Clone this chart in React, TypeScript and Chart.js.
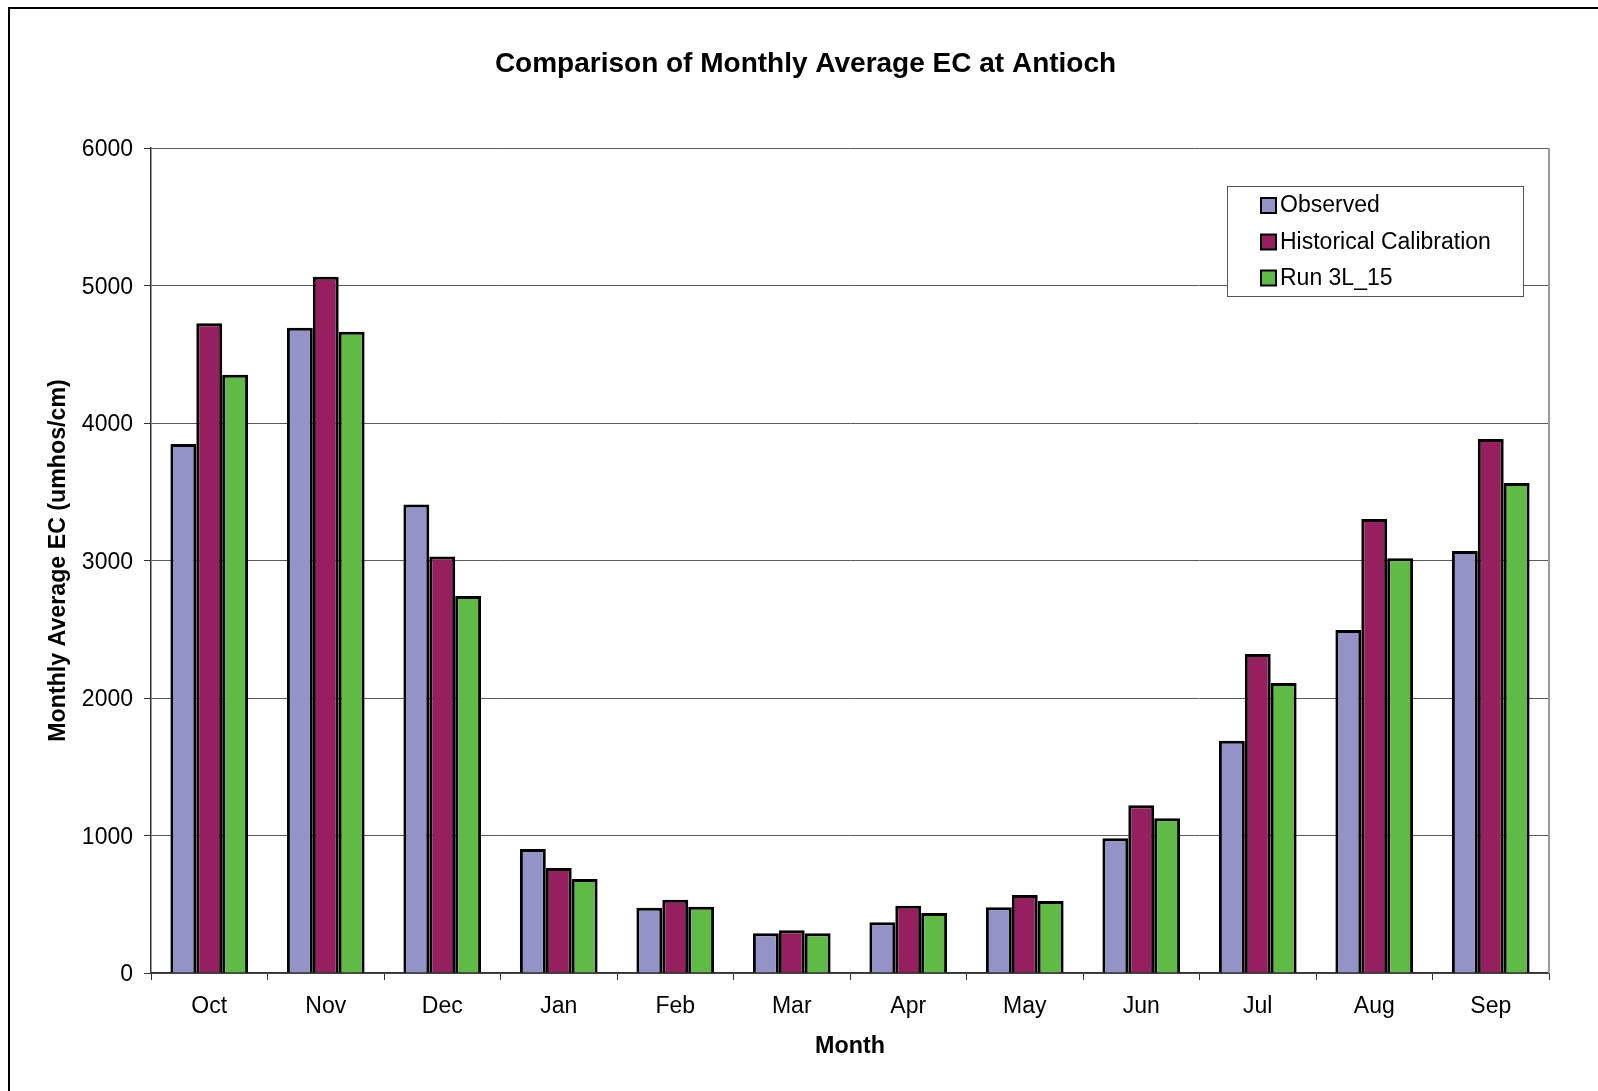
import React, { useEffect, useRef } from "react";
import { Chart, registerables } from "chart.js";

Chart.register(...registerables);

const months = ["Oct", "Nov", "Dec", "Jan", "Feb", "Mar", "Apr", "May", "Jun", "Jul", "Aug", "Sep"];
const observed = [3847, 4693, 3407, 902, 474, 289, 370, 478, 980, 1689, 2495, 3069];
const historical = [4725, 5064, 3030, 764, 533, 311, 489, 568, 1220, 2320, 3302, 3884];
const run3L15 = [4351, 4664, 2741, 684, 481, 289, 437, 524, 1126, 2109, 3016, 3564];
const seriesNames = ["Observed", "Historical Calibration", "Run 3L_15"];
const seriesColors = ["#9393C8", "#96205F", "#60BB46"];
const yMin = 0;
const yMax = 6000;
const yStep = 1000;
const chartTitle = "Comparison of Monthly Average EC at Antioch";

const FONT = "'Liberation Sans', Arial, Helvetica, sans-serif";
const W = 1598;
const H = 1091;

const framePlugin = {
  id: "frame",
  beforeDraw(chart: any) {
    const ctx = chart.ctx;
    ctx.save();
    ctx.fillStyle = "#fff";
    ctx.fillRect(0, 0, W, H);
    ctx.strokeStyle = "#000";
    ctx.lineWidth = 2;
    ctx.beginPath();
    ctx.moveTo(9, H + 5);
    ctx.lineTo(9, 8);
    ctx.lineTo(W + 5, 8);
    ctx.stroke();
    // title
    ctx.fillStyle = "#000";
    ctx.font = `bold 28px ${FONT}`;
    ctx.textAlign = "center";
    ctx.textBaseline = "middle";
    ctx.fillText(chartTitle, 805.5, 64);
    ctx.restore();
  },
  afterDatasetsDraw(chart: any) {
    const { ctx, chartArea } = chart;
    ctx.save();
    ctx.strokeStyle = "#9a9a9a";
    ctx.lineWidth = 2;
    ctx.beginPath();
    ctx.moveTo(chartArea.right, chartArea.top);
    ctx.lineTo(chartArea.right, chartArea.bottom);
    ctx.stroke();
    ctx.restore();
  },
};

const legendPlugin = {
  id: "boxLegend",
  afterDraw(chart: any) {
    const ctx = chart.ctx;
    const bx = 1227, by = 186, bw = 296, bh = 110;
    ctx.save();
    ctx.fillStyle = "#fff";
    ctx.fillRect(bx, by, bw, bh);
    ctx.strokeStyle = "#555";
    ctx.lineWidth = 1;
    ctx.strokeRect(bx + 0.5, by + 0.5, bw, bh);
    const rowCenters = [205, 241.5, 277.5];
    ctx.font = `23px ${FONT}`;
    ctx.textBaseline = "middle";
    ctx.textAlign = "left";
    chart.data.datasets.forEach((ds: any, i: number) => {
      const cy = rowCenters[i];
      ctx.fillStyle = ds.backgroundColor;
      ctx.fillRect(1261, cy - 7, 15, 15);
      ctx.strokeStyle = "#000";
      ctx.lineWidth = 2;
      ctx.strokeRect(1261, cy - 7, 15, 15);
      ctx.fillStyle = "#000";
      ctx.fillText(ds.label, 1280, cy + 1);
    });
    ctx.restore();
  },
};

export default function App() {
  const ref = useRef<HTMLCanvasElement | null>(null);

  useEffect(() => {
    if (!ref.current) return;
    const datasets = [observed, historical, run3L15].map((d, i) => ({
      label: seriesNames[i],
      data: d,
      backgroundColor: seriesColors[i],
      borderColor: "#000",
      borderWidth: 3,
      categoryPercentage: 0.667,
      barPercentage: 1.0,
    }));
    const chart = new Chart(ref.current, {
      type: "bar",
      data: { labels: months, datasets },
      options: {
        responsive: false,
        animation: false,
        devicePixelRatio: 1,
        layout: { padding: { left: 0, right: W - 1549, top: 148, bottom: 0 } },
        plugins: {
          legend: { display: false },
          tooltip: { enabled: false },
          title: { display: false },
        },
        scales: {
          x: {
            grid: {
              offset: true,
              drawOnChartArea: false,
              drawTicks: true,
              tickLength: 7,
              tickColor: "#333",
              lineWidth: 1,
            },
            border: { display: true, color: "#333", width: 1.5 },
            ticks: { color: "#000", font: { family: FONT, size: 23 }, padding: 13 },
            title: {
              display: true,
              text: "Month",
              color: "#000",
              font: { family: FONT, size: 23.3, weight: "bold" },
              padding: { top: 0, bottom: 30 },
            },
            afterFit: (s: any) => {
              s.height = H - 973;
            },
          },
          y: {
            min: yMin,
            max: yMax,
            ticks: {
              stepSize: yStep,
              color: "#000",
              font: { family: FONT, size: 23 },
              padding: 11,
              labelOffset: 2,
              callback: (v: any) => String(v),
            },
            grid: {
              color: "#5a5a5a",
              lineWidth: 1,
              tickLength: 7,
              tickColor: "#333",
            },
            border: { display: true, color: "#333", width: 1.5 },
            title: {
              display: true,
              text: "Monthly Average EC (umhos/cm)",
              color: "#000",
              font: { family: FONT, size: 23.2, weight: "bold" },
              padding: { top: 45, bottom: 0 },
            },
            afterFit: (s: any) => {
              s.width = 151;
            },
          },
        },
      } as any,
      plugins: [framePlugin, legendPlugin],
    });
    return () => chart.destroy();
  }, []);

  return (
    <div style={{ position: "absolute", left: 0, top: 0, width: W, height: H, background: "#fff" }}>
      <canvas ref={ref} width={W} height={H} style={{ display: "block", width: W, height: H }} />
    </div>
  );
}
